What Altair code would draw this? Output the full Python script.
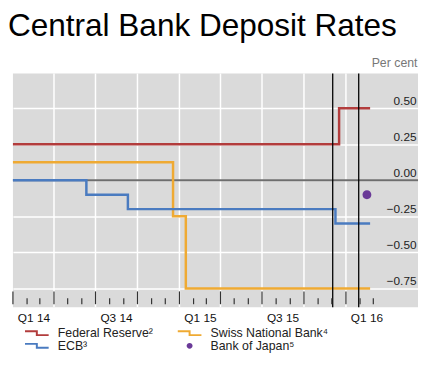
import altair as alt
import pandas as pd

# ---- data ----
banks = ["Federal Reserve²", "ECB³", "Swiss National Bank⁴", "Bank of Japan⁵"]
bank_colors = ["#b23c3c", "#4a7bc0", "#efaa33", "#6a3a98"]

fed_dates = ["2014-01-01", "2015-12-17", "2016-02-23"]
fed_rates = [0.25, 0.50, 0.50]
ecb_dates = ["2014-01-01", "2014-06-11", "2014-09-10", "2015-12-09", "2016-02-23"]
ecb_rates = [0.0, -0.10, -0.20, -0.30, -0.30]
snb_dates = ["2014-01-01", "2014-12-18", "2015-01-15", "2016-02-23"]
snb_rates = [0.125, -0.25, -0.75, -0.75]
boj_dates = ["2016-02-16"]
boj_rates = [-0.10]

marker_dates = ["2015-12-03", "2016-01-29"]          # black vertical lines
grid_quarters = ["2014-04-01", "2014-07-01", "2014-10-01", "2015-01-01",
                 "2015-04-01", "2015-07-01", "2015-10-01", "2016-01-01"]
tick_months = [str(d.date()) for d in pd.date_range("2014-01-01", "2016-03-01", freq="MS")]
y_ticks = [-0.75, -0.5, -0.25, 0.0, 0.25, 0.5]

W, H = 411, 237

STEP = "M-2,-0.5 L0.167,-0.5 L0.167,0.167 L2,0.167 L2,0.5 L-0.167,0.5 L-0.167,-0.167 L-2,-0.167 Z"
DOT = "M-0.5,0 A0.5,0.5 0 1,0 0.5,0 A0.5,0.5 0 1,0 -0.5,0 Z"
shapes = [STEP, STEP, STEP, DOT]

def frame(name, dates, rates):
    return pd.DataFrame({"bank": name, "date": pd.to_datetime(dates), "rate": rates})

fed_df = frame(banks[0], fed_dates, fed_rates)
ecb_df = frame(banks[1], ecb_dates, ecb_rates)
snb_df = frame(banks[2], snb_dates, snb_rates)
boj_df = frame(banks[3], boj_dates, boj_rates)
markers_df = pd.DataFrame({"date": pd.to_datetime(marker_dates)})
grid_df = pd.DataFrame({"date": pd.to_datetime(grid_quarters)})
ticks_df = pd.DataFrame({"date": pd.to_datetime(tick_months)})
ticks_df["major"] = ticks_df["date"].dt.month.isin([1, 4, 7, 10])
zero_df = pd.DataFrame({"rate": [0.0]})

xscale = alt.Scale(domain=[alt.DateTime(year=2014, month=1, date=1),
                           alt.DateTime(year=2016, month=6, date=7)])
yscale = alt.Scale(domain=[-0.88, 0.74], nice=False, zero=False)
cscale = alt.Scale(domain=banks, range=bank_colors)
sscale = alt.Scale(domain=banks, range=shapes)

label_dates = [alt.DateTime(year=2014, month=2, date=15), alt.DateTime(year=2014, month=8, date=15),
               alt.DateTime(year=2015, month=2, date=15), alt.DateTime(year=2015, month=8, date=15),
               alt.DateTime(year=2016, month=2, date=15)]

x_axis = alt.Axis(values=label_dates,
                  labelExpr="'Q' + (floor(month(datum.value)/3)+1) + ' ' + timeFormat(datum.value, '%y')",
                  ticks=False, grid=False, domain=False, minExtent=0,
                  labelFontSize=12, labelColor="#111", labelPadding=6,
                  labelFont="Liberation Sans")
y_axis = alt.Axis(orient="right", values=y_ticks, format=".2f",
                  grid=True, gridColor="white", gridWidth=1.5,
                  ticks=False, domain=False, minExtent=0,
                  labelAlign="right", labelPadding=-2, labelBaseline="bottom",
                  labelOffset=-1, labelFontSize=12, labelColor="#222",
                  labelFont="Liberation Sans",
                  titleAngle=0, titleAlign="right", titleBaseline="bottom",
                  titleX=-1, titleY=-4, titleFontWeight="normal",
                  titleFontSize=12.5, titleColor="#777", titleFont="Liberation Sans")

X = alt.X("date:T", scale=xscale, title=None, axis=x_axis)
Y = alt.Y("rate:Q", scale=yscale, title="Per cent", axis=y_axis)

legend = alt.Legend(title=None, orient="none", legendX=18, legendY=257, columns=2,
                    columnPadding=24, rowPadding=0, symbolSize=144, symbolStrokeWidth=0,
                    labelFontSize=12.5, labelColor="#222", labelFont="Liberation Sans",
                    labelOffset=15)

vgrid = alt.Chart(grid_df).mark_rule(color="white", strokeWidth=1.5).encode(x=X)

zero = alt.Chart(zero_df).mark_rule(color="#6e6e6e", strokeWidth=2).encode(y=Y)

def step_line(df, color):
    return alt.Chart(df).mark_line(interpolate="step-after", strokeWidth=2.5,
                                   color=color).encode(x=X, y=Y)

fed = step_line(fed_df, bank_colors[0])
ecb = step_line(ecb_df, bank_colors[1])
snb = step_line(snb_df, bank_colors[2])

markers = alt.Chart(markers_df).mark_rule(color="black", strokeWidth=1.3).encode(x=X)

major_ticks = alt.Chart(ticks_df).transform_filter("datum.major").mark_rule(
    color="#333", strokeWidth=1.2).encode(x=X, y=alt.value(H - 3), y2=alt.value(H - 16))
minor_ticks = alt.Chart(ticks_df).transform_filter("!datum.major").mark_rule(
    color="#333", strokeWidth=1.2).encode(x=X, y=alt.value(H - 3), y2=alt.value(H - 9))

boj = alt.Chart(boj_df).mark_point(filled=True, size=324, opacity=1).encode(
    x=X, y=Y,
    color=alt.Color("bank:N", scale=cscale, legend=legend),
    shape=alt.Shape("bank:N", scale=sscale, legend=legend))

chart = alt.layer(vgrid, zero, snb, fed, ecb, markers, major_ticks, minor_ticks, boj).properties(
    width=W, height=H, padding=0,
    title=alt.TitleParams("Central Bank Deposit Rates", anchor="start", fontSize=32,
                          font="Liberation Sans", fontWeight="normal", color="black",
                          offset=18, dy=4),
).configure_view(fill="#dadada", stroke=None)

chart.save("out.html", embed_options={"renderer": "svg", "actions": False})
